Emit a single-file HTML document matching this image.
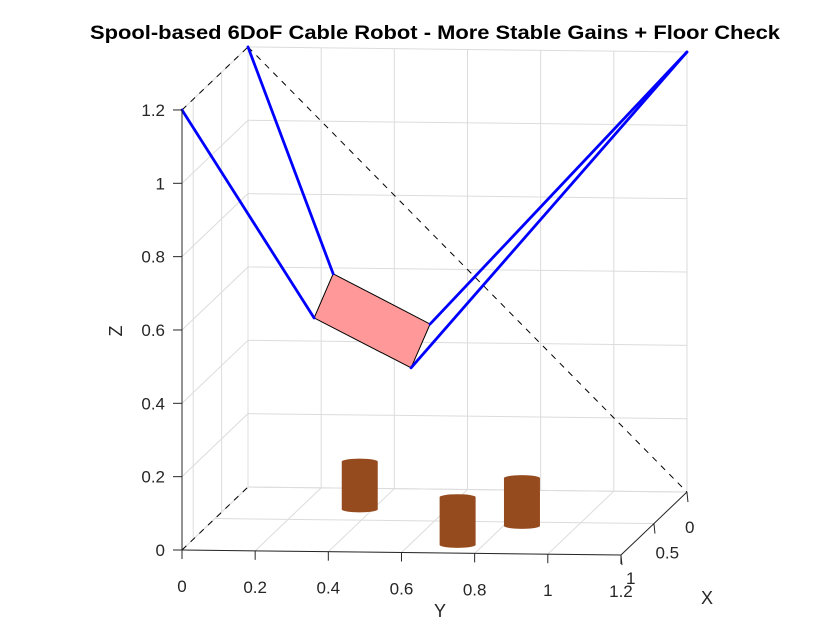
<!DOCTYPE html>
<html><head><meta charset="utf-8"><style>
body{margin:0;background:#fff;}
svg{display:block;font-family:"Liberation Sans",Arial,sans-serif;}
</style></head><body>
<svg id="c" width="840" height="630" viewBox="0 0 840 630">
<rect width="840" height="630" fill="#fff"/>
<text x="435" y="39" text-anchor="middle" font-size="19" font-weight="bold" fill="#000" textLength="690" lengthAdjust="spacingAndGlyphs">Spool-based 6DoF Cable Robot - More Stable Gains + Floor Check</text>
<g id="grid"></g>
<g id="marks"></g>
<g id="axes"></g>
<text x="440" y="617" text-anchor="middle" font-size="18" fill="#262626">Y</text>
<text x="707" y="604" text-anchor="middle" font-size="18" fill="#262626">X</text>
<text x="122" y="331" text-anchor="middle" font-size="18" fill="#262626" transform="rotate(-90 122 331)">Z</text>
</svg>
<script>
const yTicks=[0,0.2,0.4,0.6,0.8,1,1.2];
const yTickLabels=["0","0.2","0.4","0.6","0.8","1","1.2"];
const zTicks=[0,0.2,0.4,0.6,0.8,1,1.2];
const zTickLabels=["0","0.2","0.4","0.6","0.8","1","1.2"];
const xTicks=[0,0.5,1];
const xTickLabels=["0","0.5","1"];
const xGrid=[0.4,0.83];
// platform corners [X,Y,Z]
const platform=[[0.5,0.323,0.671],[0.5,0.271,0.550],[0.5,0.536,0.417],[0.5,0.588,0.537]];
// cables: anchor [X,Y,Z], platform corner index
const anchors=[[1,0,1.2],[0,0,1.2],[0,1.2,1.2],[0,1.2,1.2]];
const cableCorner=[1,0,3,2];
// obstacles: base [X,Y], height
const obstacleX=[0.33,0.87,0.56];
const obstacleY=[0.365,0.73,0.85];
const obstacleH=[0.13,0.13,0.13];

const NS="http://www.w3.org/2000/svg";
function P(x,y,z){return [248-66*x+365.8*y, 487+63*x+4.2*y-366.7*z];}
function mk(par,tag,at){const e=document.createElementNS(NS,tag);for(const k in at)e.setAttribute(k,at[k]);document.getElementById(par).appendChild(e);return e;}
function line(par,a,b,st,w,dash){return mk(par,'line',{x1:a[0],y1:a[1],x2:b[0],y2:b[1],stroke:st,'stroke-width':w,'stroke-dasharray':dash||'none'});}
const gc='#dcdcdc';
yTicks.forEach(y=>{const l=line('grid',P(0,y,0),P(0,y,1.2),gc,1);});
zTicks.forEach(z=>{const l=line('grid',P(0,0,z),P(0,1.2,z),gc,1);});
zTicks.forEach(z=>{const l=line('grid',P(0,0,z),P(1,0,z),gc,1);});
xGrid.forEach(x=>{const l=line('grid',P(x,0,0),P(x,0,1.2),gc,1);});
yTicks.forEach(y=>{const l=line('grid',P(0,y,0),P(1,y,0),gc,1);});
xTicks.forEach(x=>{const l=line('grid',P(x,0,0),P(x,1.2,0),gc,1);});
[[P(1,0,1.2),P(0,0,1.2)],[P(0,0,1.2),P(0,1.2,0)],[P(1,0,0),P(0,0,0)]].forEach(s=>{const l=line('grid',s[0],s[1],'#000',1,'6,6');});
obstacleX.forEach((x,i)=>{const b=P(x,obstacleY[i],0),t=P(x,obstacleY[i],obstacleH[i]);const w=36;
 const g=mk('marks','path',{d:`M${b[0]-w/2},${t[1]} L${b[0]-w/2},${b[1]} A${w/2},3 0 0 0 ${b[0]+w/2},${b[1]} L${b[0]+w/2},${t[1]} A${w/2},3 0 0 0 ${b[0]-w/2},${t[1]}Z`,fill:'#964b1e'});
 });
const pp=platform.map(p=>P(p[0],p[1],p[2]));
const poly=mk('marks','polygon',{points:pp.map(p=>p.join(',')).join(' '),fill:'#ff9999',stroke:'#000','stroke-width':1});

anchors.forEach((a,i)=>{const l=line('marks',P(a[0],a[1],a[2]),pp[cableCorner[i]],'#0000ff',2.8);l.setAttribute('stroke-linecap','round');
 });
const ac='#262626';
let l=line('axes',P(1,0,0),P(1,0,1.2),ac,1);
l=line('axes',P(1,0,0),P(1,1.2,0),ac,1);
l=line('axes',P(1,1.2,0),P(0,1.2,0),ac,1);
zTicks.forEach((z,i)=>{const p=P(1,0,z);const t=line('axes',p,[p[0]-9,p[1]],ac,1);
 const tx=mk('axes','text',{x:p[0]-17,y:p[1]+6,'text-anchor':'end','font-size':17,fill:ac});tx.textContent=zTickLabels[i];});
yTicks.forEach((y,i)=>{const p=P(1,y,0);const t=line('axes',p,[p[0],p[1]+9],ac,1);
 const tx=mk('axes','text',{x:p[0],y:p[1]+42,'text-anchor':'middle','font-size':17,fill:ac});tx.textContent=yTickLabels[i];});
xTicks.forEach((x,i)=>{const p=P(x,1.2,0);const t=line('axes',p,[p[0]+1,p[1]+10],ac,1);
 const tx=mk('axes','text',{x:p[0]-2+7*x,y:p[1]+41-12*x,'text-anchor':'start','font-size':17,fill:ac});tx.textContent=xTickLabels[i];});
</script>
</body></html>
